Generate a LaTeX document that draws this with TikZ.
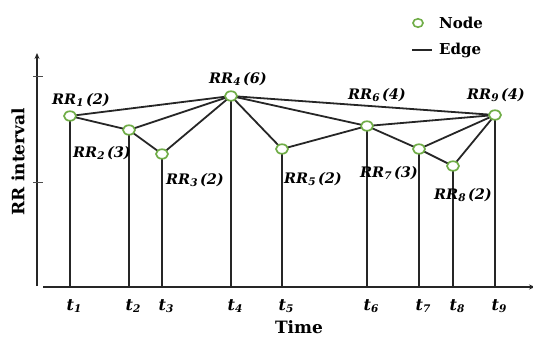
\documentclass[tikz,border=0pt]{standalone}
\usepackage{fontspec}
\setmainfont{DejaVu Serif}
\usetikzlibrary{shapes.geometric,arrows.meta}
\definecolor{nodegreen}{RGB}{112,173,71}
\tikzset{
  rr/.style={ellipse, draw=nodegreen, line width=1.7pt, fill=white,
             minimum width=12pt, minimum height=9.5pt, inner sep=0pt},
  legdot/.style={ellipse, draw=nodegreen, line width=1.6pt, fill=white,
             minimum width=10pt, minimum height=8.5pt, inner sep=0pt},
  edge/.style={line width=1.8pt, black!85},
  lbl/.style={font=\fontsize{14.5}{16}\selectfont\bfseries\itshape, inner sep=0pt},
  tl/.style={font=\fontsize{16}{18}\selectfont\bfseries\itshape, inner sep=0pt},
  legtxt/.style={font=\fontsize{15}{17}\selectfont\bfseries, anchor=west, inner sep=0pt},
  axis/.style={line width=1.5pt, black!85},
}
% lowered subscript in a slightly smaller size
\newcommand{\lowsub}[1]{\raisebox{-0.32ex}{\fontsize{10.5}{12}\selectfont #1}}
\newcommand{\RRlab}[2]{RR\lowsub{#1}\,(#2)}
\begin{document}
\begin{tikzpicture}[x=1pt,y=-1pt]
\useasboundingbox (0,0) rectangle (533,337);

% axes
\coordinate (yb) at (37,286);
\coordinate (yt) at (37,53);
\coordinate (xl) at (43,287);
\coordinate (xr) at (535,287);
\draw[axis,-{Stealth[length=6pt,width=5pt]}] (yb) -- (yt);
\draw[axis,-{Stealth[length=6pt,width=5pt]}] (xl) -- (xr);
\coordinate (tk1l) at (33,76);  \coordinate (tk1r) at (43,76);
\coordinate (tk2l) at (33,182); \coordinate (tk2r) at (43,182);
\draw[line width=0.7pt, black!70] (tk1l) -- (tk1r);
\draw[line width=0.7pt, black!70] (tk2l) -- (tk2r);

\node[font=\fontsize{17}{19}\selectfont\bfseries, rotate=90] (ylab) at (18,162) {RR interval};
\node[font=\fontsize{17}{19}\selectfont\bfseries] (xlab) at (299,327) {Time};

% feet on the time axis
\foreach \i/\x in {1/70,2/129,3/162,4/231,5/282,6/367,7/419,8/453,9/495}{
  \coordinate (f\i) at (\x,287);
}

% node positions (drawn last, on top of the edges)
\foreach \i/\x/\y in {1/70/116,2/129/130,3/162/154,4/231/96,5/282/149,6/367/126,7/419/149,8/453/166,9/495/115}{
  \coordinate (n\i) at (\x,\y);
}

% vertical drops
\foreach \i in {1,...,9}{
  \draw[edge] (n\i) -- (f\i);
}

% edges
\draw[edge] (n1) -- (n4);
\draw[edge] (n1) -- (n2);
\draw[edge] (n2) -- (n3);
\draw[edge] (n2) -- (n4);
\draw[edge] (n3) -- (n4);
\draw[edge] (n4) -- (n5);
\draw[edge] (n4) -- (n6);
\draw[edge] (n4) -- (n9);
\draw[edge] (n5) -- (n6);
\draw[edge] (n6) -- (n9);
\draw[edge] (n6) -- (n7);
\draw[edge] (n7) -- (n8);
\draw[edge] (n7) -- (n9);
\draw[edge] (n8) -- (n9);

% nodes
\foreach \i in {1,...,9}{
  \node[rr] (c\i) at (n\i) {};
}

% node labels
\node[lbl] (l1) at (81,100) {\RRlab{1}{2}};
\node[lbl] (l2) at (102,153) {\RRlab{2}{3}};
\node[lbl] (l3) at (195,180) {\RRlab{3}{2}};
\node[lbl] (l4) at (238,79) {\RRlab{4}{6}};
\node[lbl] (l5) at (313,179) {\RRlab{5}{2}};
\node[lbl] (l6) at (377,95) {\RRlab{6}{4}};
\node[lbl] (l7) at (389,173) {\RRlab{7}{3}};
\node[lbl] (l8) at (463,195) {\RRlab{8}{2}};
\node[lbl] (l9) at (496,95) {\RRlab{9}{4}};

% time labels
\foreach \i/\x in {1/74,2/133,3/166,4/235,5/286,6/371,7/423,8/457,9/499}{
  \node[tl] (t\i) at (\x,306) {t\lowsub{\i}};
}

% legend
\node[legdot] (legn) at (418,23) {};
\node[legtxt] (legnt) at (439,23) {Node};
\coordinate (lega) at (412,50);
\coordinate (legb) at (432,50);
\draw[edge] (lega) -- (legb);
\node[legtxt] (leget) at (439,50) {Edge};
\end{tikzpicture}
\end{document}
